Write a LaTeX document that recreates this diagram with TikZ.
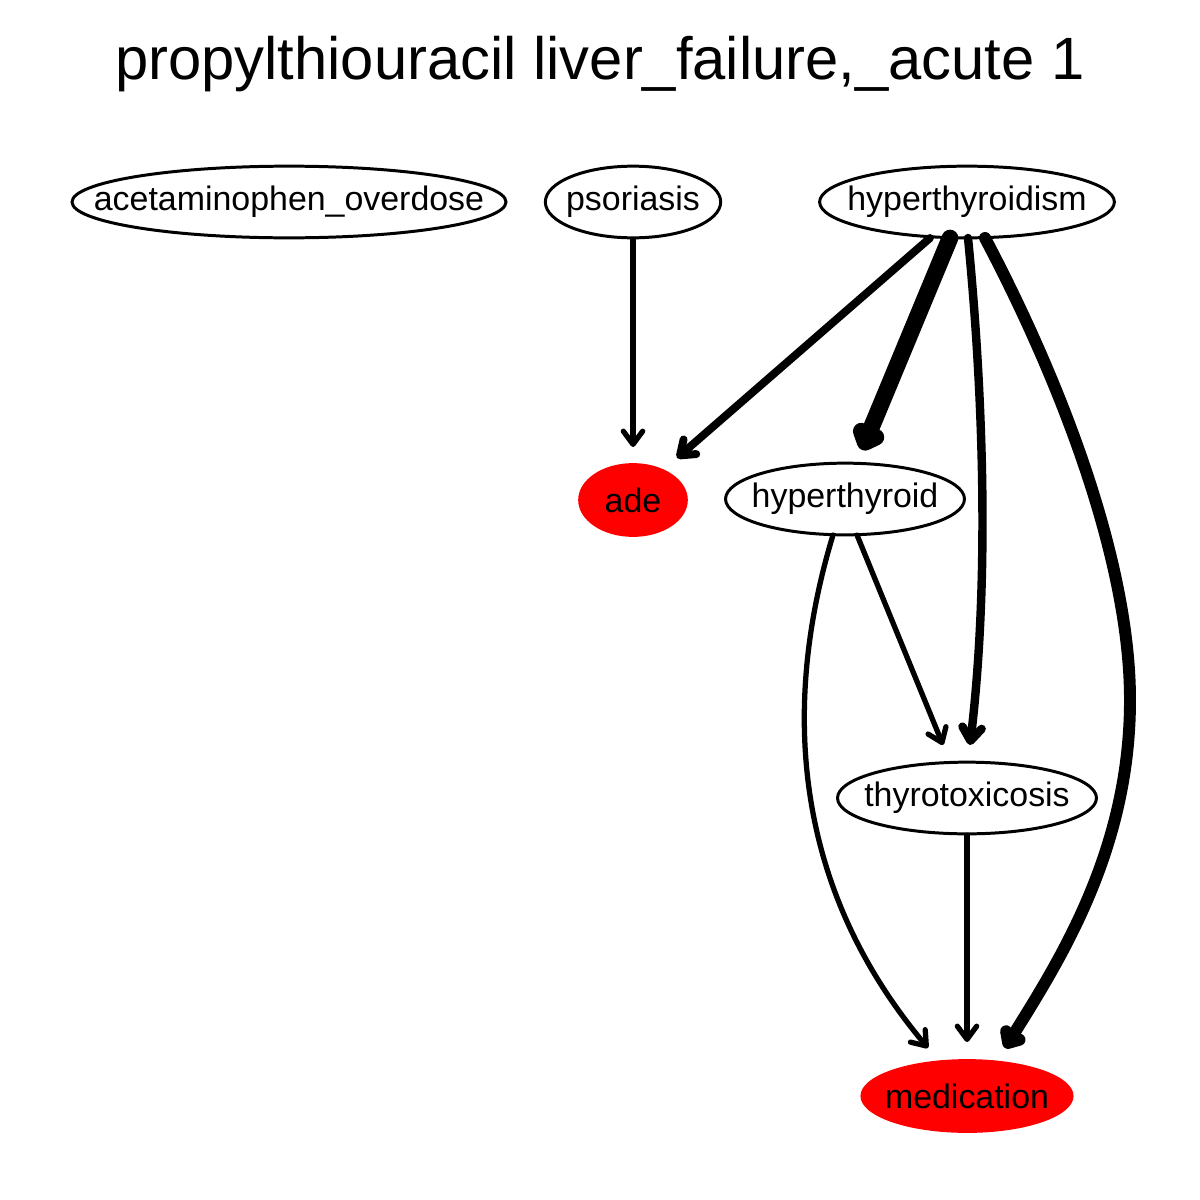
\documentclass[tikz,border=0pt]{standalone}
\usepackage{fontspec}
\setmainfont{Liberation Sans}
\usetikzlibrary{shapes.geometric,arrows.meta,calc}
\begin{document}
\begin{tikzpicture}[x=0.02cm,y=-0.02cm,
  nd/.style={ellipse,draw=black,line width=1.7pt,inner sep=0pt,minimum height=40.8pt,
    label={[font=\fontsize{19.3}{22}\selectfont,inner sep=0pt]center:#1}},
  rednd/.style={ellipse,fill=red,draw=none,inner sep=0pt,minimum height=42pt,
    label={[font=\fontsize{19.3}{22}\selectfont,inner sep=0pt]center:#1}},
  edge/.style={draw=black,line cap=round,line join=round,-{Straight Barb[round,length=7.5pt,width=11pt]}},
  bigedge/.style={draw=black,line cap=round,line join=round,-{Straight Barb[round,length=5pt,width=9pt]}}]
\useasboundingbox (0,0) rectangle (1200,1200);
\node (title) at (600,64) {\fontsize{34}{40}\selectfont propylthiouracil liver\_failure,\_acute 1};
\node[nd={acetaminophen\_overdose},minimum width=247pt] (aceto) at (289,202) {};
\node[nd={psoriasis},minimum width=99.8pt] (psor) at (633,202) {};
\node[nd={hyperthyroidism},minimum width=167.8pt] (hyper) at (967,202) {};
\node[rednd={ade},minimum width=62.4pt] (ade) at (633,500) {};
\node[nd={hyperthyroid},minimum width=136pt] (hyp) at (845,499) {};
\node[nd={thyrotoxicosis},minimum width=147.4pt] (thyro) at (967,798) {};
\node[rednd={medication},minimum width=121.3pt] (med) at (967,1096) {};
% edges
\draw[edge,line width=3pt] (psor.south) -- ($(ade)+(0,-53)$);
\draw[edge,line width=4.5pt] ($(hyper)+(-37,36)$) -- ($(ade)+(44,-42)$);
\draw[bigedge,line width=9.5pt] ($(hyper)+(-17,36)$) -- ($(hyp)+(17,-49)$);
\draw[edge,line width=4.8pt] ($(hyper)+(1,36)$) .. controls (980,360) and (992,560) .. ($(thyro)+(3,-53)$);
\draw[bigedge,line width=6.8pt] ($(hyper)+(18,36)$) .. controls (1060,380) and (1130,560) .. (1130,700) .. controls (1130,850) and (1060,960) .. ($(med)+(38,-48)$);
\draw[edge,line width=3pt] ($(hyp)+(-12,36)$) .. controls (795,660) and (770,860) .. ($(med)+(-39,-48)$);
\draw[edge,line width=3pt] ($(hyp)+(12,36)$) -- ($(thyro)+(-24,-53)$);
\draw[edge,line width=3pt] (thyro.south) -- ($(med)+(0,-54)$);
\end{tikzpicture}
\end{document}
